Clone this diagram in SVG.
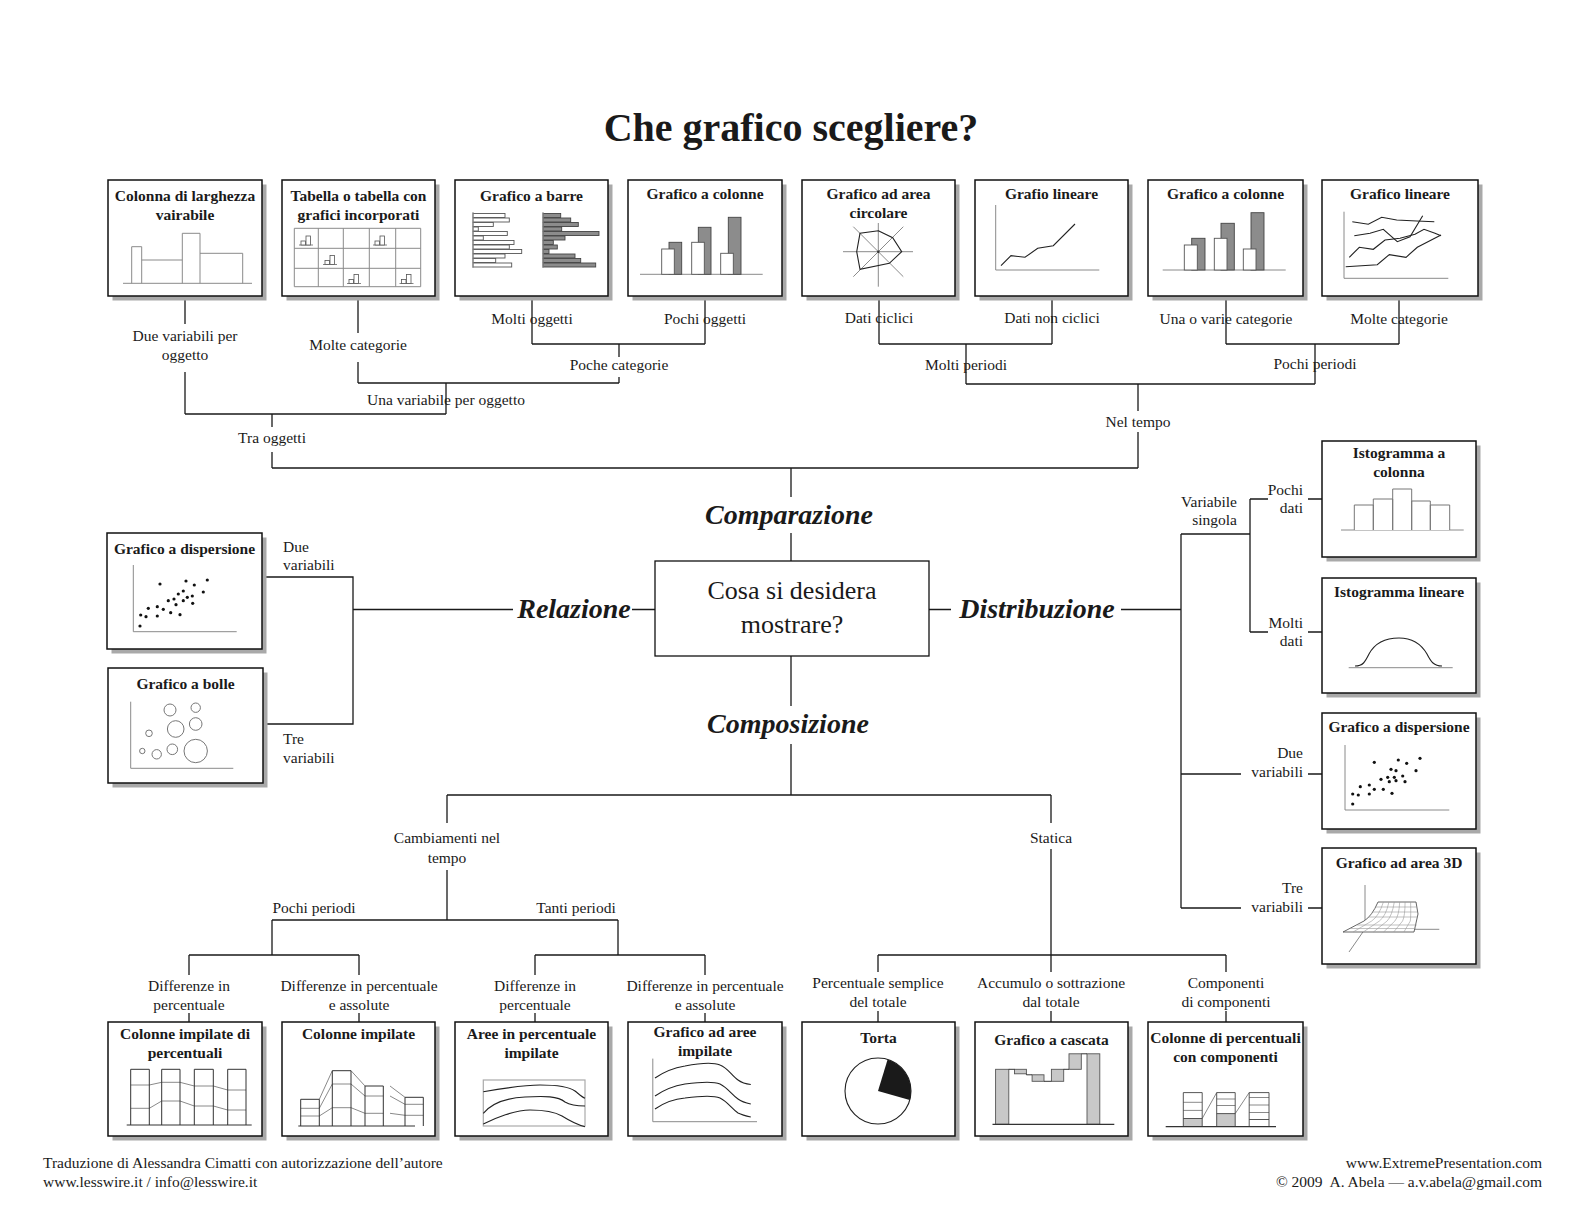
<svg xmlns="http://www.w3.org/2000/svg" width="1584" height="1224" viewBox="0 0 1584 1224">
<style>
text{font-family:"Liberation Serif","DejaVu Serif",serif;fill:#1a1a1a}
.title{font-size:40px;font-weight:bold;text-anchor:middle}
.lb{font-size:15.5px;text-anchor:middle}
.lbe{font-size:15.5px;text-anchor:end}
.lbs{font-size:15.5px;text-anchor:start}
.bt{font-size:15.5px;font-weight:bold;text-anchor:middle}
.key{font-size:28px;font-weight:bold;font-style:italic;text-anchor:middle}
.q{font-size:26px;text-anchor:middle}
.ft{font-size:15.5px}
.sh{fill:#a9a9a9}
.box{fill:#fff;stroke:#111;stroke-width:1.5}
.ln{fill:none;stroke:#1a1a1a;stroke-width:1.3}
.g{fill:none;stroke:#8a8a8a;stroke-width:1}
.d{fill:none;stroke:#222;stroke-width:1.1}
.wb{fill:#fff;stroke:#555;stroke-width:0.9}
.gb{fill:#8c8c8c;stroke:#444;stroke-width:0.9}
.lg{fill:#c8c8c8;stroke:#555;stroke-width:0.9}
.dot{fill:#111}
.bub{fill:#fff;stroke:#777;stroke-width:1}
</style>
<defs>
<g id="mini">
<path d="M0,0 H14" stroke="#777" stroke-width="0.9"/>
<rect x="2" y="-4" width="4.5" height="4" fill="#fff" stroke="#555" stroke-width="0.8"/>
<rect x="7" y="-9" width="4.5" height="9" fill="#fff" stroke="#555" stroke-width="0.8"/>
</g>
</defs>
<rect width="1584" height="1224" fill="#fff"/>
<text class="title" x="791" y="141">Che grafico scegliere?</text>

<g id="connectors">
<path class="ln" d="M185,296 V324 M185,372 V414 M358,296 V333 M358,362 V383 M532,296 V344 M705,296 V344 M532,344 H705 M619,344 V357 M619,377 V383 M358,383 H619 M446,383 V414 M185,414 H446 M272,414 V427 M272,452 V468 M272,468 H1138"/>
<path class="ln" d="M879,296 V344 M1052,296 V344 M879,344 H1052 M966,344 V384 M1226,296 V344 M1399,296 V344 M1226,344 H1399 M1315,344 V384 M966,384 H1315 M1138,384 V411 M1138,432 V468"/>
<path class="ln" d="M791,468 V497 M791,533 V561"/>
<path class="ln" d="M262,577 H353 V724 H263 M353,609.5 H513 M632,609.5 H655"/>
<path class="ln" d="M929,609.5 H951 M1121,609.5 H1181 M1181,534 V908 M1181,534 H1250 M1250,499 V632 M1250,499 H1268 M1308,499 H1322 M1250,632 H1268 M1308,632 H1322 M1181,774 H1241 M1308,774 H1322 M1181,908 H1241 M1308,908 H1322"/>
<path class="ln" d="M791,656 V706 M791,744 V795 M447,795 H1051 M447,795 V823 M447,870 V920 M272,920 H618 M272,920 V955 M618,920 V955 M189,955 H359 M535,955 H705 M189,955 V975 M359,955 V975 M535,955 V975 M705,955 V975 M189,1013 V1022 M359,1013 V1022 M535,1013 V1022 M705,1013 V1022"/>
<path class="ln" d="M1051,795 V823 M1051,849 V972 M878,955 H1226 M878,955 V972 M1226,955 V972 M878,1011 V1022 M1051,1011 V1022 M1226,1011 V1022"/>
</g>

<g id="labels">
<text class="lb" x="185" y="341">Due variabili per</text>
<text class="lb" x="185" y="360">oggetto</text>
<text class="lb" x="358" y="350">Molte categorie</text>
<text class="lb" x="532" y="324">Molti oggetti</text>
<text class="lb" x="705" y="324">Pochi oggetti</text>
<text class="lb" x="619" y="370">Poche categorie</text>
<text class="lb" x="446" y="405">Una variabile per oggetto</text>
<text class="lb" x="272" y="443">Tra oggetti</text>
<text class="lb" x="879" y="323">Dati ciclici</text>
<text class="lb" x="1052" y="323">Dati non ciclici</text>
<text class="lb" x="966" y="370">Molti periodi</text>
<text class="lb" x="1226" y="324">Una o varie categorie</text>
<text class="lb" x="1399" y="324">Molte categorie</text>
<text class="lb" x="1315" y="369">Pochi periodi</text>
<text class="lb" x="1138" y="427">Nel tempo</text>
<text class="key" x="789" y="524">Comparazione</text>
<text class="key" x="574" y="618">Relazione</text>
<text class="key" x="1037" y="618">Distribuzione</text>
<text class="key" x="788" y="733">Composizione</text>
<text class="lbs" x="283" y="552">Due</text>
<text class="lbs" x="283" y="570">variabili</text>
<text class="lbs" x="283" y="744">Tre</text>
<text class="lbs" x="283" y="763">variabili</text>
<text class="lbe" x="1237" y="507">Variabile</text>
<text class="lbe" x="1237" y="525">singola</text>
<text class="lbe" x="1303" y="495">Pochi</text>
<text class="lbe" x="1303" y="513">dati</text>
<text class="lbe" x="1303" y="628">Molti</text>
<text class="lbe" x="1303" y="646">dati</text>
<text class="lbe" x="1303" y="758">Due</text>
<text class="lbe" x="1303" y="777">variabili</text>
<text class="lbe" x="1303" y="893">Tre</text>
<text class="lbe" x="1303" y="912">variabili</text>
<text class="lb" x="447" y="843">Cambiamenti nel</text>
<text class="lb" x="447" y="863">tempo</text>
<text class="lb" x="1051" y="843">Statica</text>
<text class="lb" x="314" y="913">Pochi periodi</text>
<text class="lb" x="576" y="913">Tanti periodi</text>
<text class="lb" x="189" y="991">Differenze in</text>
<text class="lb" x="189" y="1010">percentuale</text>
<text class="lb" x="359" y="991">Differenze in percentuale</text>
<text class="lb" x="359" y="1010">e assolute</text>
<text class="lb" x="535" y="991">Differenze in</text>
<text class="lb" x="535" y="1010">percentuale</text>
<text class="lb" x="705" y="991">Differenze in percentuale</text>
<text class="lb" x="705" y="1010">e assolute</text>
<text class="lb" x="878" y="988">Percentuale semplice</text>
<text class="lb" x="878" y="1007">del totale</text>
<text class="lb" x="1051" y="988">Accumulo o sottrazione</text>
<text class="lb" x="1051" y="1007">dal totale</text>
<text class="lb" x="1226" y="988">Componenti</text>
<text class="lb" x="1226" y="1007">di componenti</text>
</g>

<g id="n-center">
<rect x="655" y="561" width="274" height="95" fill="#fff" stroke="#111" stroke-width="1.3"/>
<text class="q" x="792" y="599">Cosa si desidera</text>
<text class="q" x="792" y="633">mostrare?</text>
</g>

<g id="n-colonna-larghezza">
<rect class="sh" x="112.5" y="184.5" width="154" height="116"/>
<rect class="box" x="108" y="180" width="154" height="116"/>
<text class="bt" x="185" y="201">Colonna di larghezza</text>
<text class="bt" x="185" y="220">vairabile</text>
<path class="g" d="M123,283.3 H252 M131.7,283.3 V246.7 H141.7 V283.3 M141.7,260 H182.3 M182.3,283.3 V233.3 H200 V283.3 M200,253.3 H242.7 V283.3"/>
</g>

<g id="n-tabella">
<rect class="sh" x="286.5" y="184.5" width="153" height="116"/>
<rect class="box" x="282" y="180" width="153" height="116"/>
<text class="bt" x="358.5" y="201">Tabella o tabella con</text>
<text class="bt" x="358.5" y="220">grafici incorporati</text>
<path class="g" d="M294.3,228.3 H420.7 M294.3,248.3 H420.7 M294.3,268.3 H420.7 M294.3,286.7 H420.7 M294.3,228.3 V286.7 M318.3,228.3 V286.7 M343.3,228.3 V286.7 M369.3,228.3 V286.7 M395.7,228.3 V286.7 M420.7,228.3 V286.7"/>
<use href="#mini" x="299" y="245"/>
<use href="#mini" x="373" y="245"/>
<use href="#mini" x="323" y="264.5"/>
<use href="#mini" x="347" y="283.5"/>
<use href="#mini" x="399.5" y="283.5"/>
</g>

<g id="n-barre">
<rect class="sh" x="459.5" y="184.5" width="153" height="116"/>
<rect class="box" x="455" y="180" width="153" height="116"/>
<text class="bt" x="531.5" y="201">Grafico a barre</text>
<rect class="wb" x="473" y="213.5" width="32" height="4"/>
<rect class="wb" x="473" y="218" width="36.3" height="4"/>
<rect class="wb" x="473" y="222.5" width="20.3" height="4"/>
<rect class="wb" x="473" y="227" width="5.3" height="4"/>
<rect class="wb" x="473" y="231.5" width="34.3" height="4"/>
<rect class="wb" x="473" y="236" width="10.3" height="4"/>
<rect class="wb" x="473" y="240.5" width="41" height="4"/>
<rect class="wb" x="473" y="245" width="36.3" height="4"/>
<rect class="wb" x="473" y="249.5" width="48.7" height="4"/>
<rect class="wb" x="473" y="254" width="32" height="4"/>
<rect class="wb" x="473" y="258.5" width="22.7" height="4"/>
<rect class="wb" x="473" y="263" width="38.7" height="4"/>
<path class="g" d="M473,212 V268"/>
<rect class="gb" x="543" y="213.5" width="17.7" height="4"/>
<rect class="gb" x="543" y="218" width="27.7" height="4"/>
<rect class="gb" x="543" y="222.5" width="35.3" height="4"/>
<rect class="gb" x="543" y="227" width="18.7" height="4"/>
<rect class="gb" x="543" y="231.5" width="56" height="4"/>
<rect class="gb" x="543" y="236" width="22" height="4"/>
<rect class="gb" x="543" y="240.5" width="10.3" height="4"/>
<rect class="gb" x="543" y="245" width="14.3" height="4"/>
<rect class="gb" x="543" y="249.5" width="6" height="4"/>
<rect class="gb" x="543" y="254" width="32" height="4"/>
<rect class="gb" x="543" y="258.5" width="37.7" height="4"/>
<rect class="gb" x="543" y="263" width="52.7" height="4"/>
<path class="g" d="M543,212 V268"/>
</g>

<g id="n-colonne-1">
<rect class="sh" x="632.5" y="184.5" width="154" height="116"/>
<rect class="box" x="628" y="180" width="154" height="116"/>
<text class="bt" x="705" y="199">Grafico a colonne</text>
<path class="g" d="M640,274.3 H762.7"/>
<rect class="gb" x="669" y="242.3" width="12.7" height="32"/>
<rect class="wb" x="661.7" y="249" width="12.6" height="25.3"/>
<rect class="gb" x="698.3" y="227.3" width="12.7" height="47"/>
<rect class="wb" x="691.7" y="242.3" width="12.6" height="32"/>
<rect class="gb" x="728.3" y="217.3" width="12.7" height="57"/>
<rect class="wb" x="720.7" y="253.3" width="12.6" height="21"/>
</g>

<g id="n-area-circolare">
<rect class="sh" x="806.5" y="184.5" width="153" height="116"/>
<rect class="box" x="802" y="180" width="153" height="116"/>
<text class="bt" x="878.5" y="199">Grafico ad area</text>
<text class="bt" x="878.5" y="218">circolare</text>
<path class="g" d="M843,251.7 H913 M878.3,223 V286.7 M853.3,226.7 L903.3,276.7 M903.3,226.7 L853.3,276.7"/>
<path class="d" d="M878.3,230.7 L892.7,237.7 L901.7,251.7 L889.3,263.3 L860,269.3 L856.7,251.7 L860,233.3 Z"/>
<circle cx="878.3" cy="251.7" r="1.2" fill="#333"/>
</g>

<g id="n-grafio-lineare">
<rect class="sh" x="979.5" y="184.5" width="153" height="116"/>
<rect class="box" x="975" y="180" width="153" height="116"/>
<text class="bt" x="1051.5" y="199">Grafio lineare</text>
<path class="g" d="M995.7,205 V270 H1099.3"/>
<path class="d" d="M1001,265.7 L1011,255.7 L1025,257.3 L1037.7,248.3 L1053.3,245.7 L1075,224"/>
</g>

<g id="n-colonne-2">
<rect class="sh" x="1152.5" y="184.5" width="155" height="116"/>
<rect class="box" x="1148" y="180" width="155" height="116"/>
<text class="bt" x="1225.5" y="199">Grafico a colonne</text>
<path class="g" d="M1162.7,270 H1285.7"/>
<rect class="gb" x="1191.7" y="238.3" width="13.3" height="31.7"/>
<rect class="wb" x="1184.3" y="245" width="13" height="25"/>
<rect class="gb" x="1221" y="223.3" width="13.3" height="46.7"/>
<rect class="wb" x="1214.3" y="238.3" width="12.7" height="31.7"/>
<rect class="gb" x="1251" y="212.7" width="13" height="57.3"/>
<rect class="wb" x="1243.3" y="249" width="12.7" height="21"/>
</g>

<g id="n-grafico-lineare">
<rect class="sh" x="1326.5" y="184.5" width="156" height="116"/>
<rect class="box" x="1322" y="180" width="156" height="116"/>
<text class="bt" x="1400" y="199">Grafico lineare</text>
<path class="g" d="M1344,211.7 V278.3 H1448.3"/>
<path class="d" d="M1352.3,221.7 L1368.3,224.3 L1381.7,217.3 L1396.7,220 L1416.7,221 L1434.3,221.7"/>
<path class="d" d="M1354.3,235.7 L1370,233.3 L1383.3,229.3 L1397.3,241.7 L1410,236.7 L1422.7,215.7"/>
<path class="d" d="M1349.3,257.3 L1359.3,247.3 L1373.3,249.3 L1385,240 L1400,238.3 L1415,234.3 L1424,229.3 L1435,233.3 L1441,235.7"/>
<path class="d" d="M1345.7,266.7 L1377.3,264.7 L1389.3,254.7 L1406,257.3 L1417.3,247.3 L1441,235"/>
</g>

<g id="n-dispersione-1">
<rect class="sh" x="111.5" y="537.5" width="155" height="116"/>
<rect class="box" x="107" y="533" width="155" height="116"/>
<text class="bt" x="184.5" y="554">Grafico a dispersione</text>
<path class="g" d="M133.3,565 V631.7 H236.7"/>
<g class="dot">
<circle cx="160" cy="584" r="1.6"/><circle cx="186" cy="581" r="1.6"/><circle cx="194.3" cy="585" r="1.6"/><circle cx="207.3" cy="580" r="1.6"/><circle cx="203.3" cy="592" r="1.6"/><circle cx="178.3" cy="594" r="1.6"/><circle cx="183.3" cy="591" r="1.6"/><circle cx="174" cy="599" r="1.6"/><circle cx="168.3" cy="600.7" r="1.6"/><circle cx="187.3" cy="597.3" r="1.6"/><circle cx="192.3" cy="596" r="1.6"/><circle cx="183.3" cy="600.7" r="1.6"/><circle cx="192.7" cy="603.3" r="1.6"/><circle cx="176" cy="604.7" r="1.6"/><circle cx="163.3" cy="609.3" r="1.6"/><circle cx="157.3" cy="606.7" r="1.6"/><circle cx="148.3" cy="608.3" r="1.6"/><circle cx="140.7" cy="615" r="1.6"/><circle cx="146" cy="616.7" r="1.6"/><circle cx="157.3" cy="616" r="1.6"/><circle cx="170.7" cy="612.7" r="1.6"/><circle cx="180" cy="614.7" r="1.6"/><circle cx="140" cy="626" r="1.6"/>
</g>
</g>

<g id="n-bolle">
<rect class="sh" x="112.5" y="672.5" width="155" height="115"/>
<rect class="box" x="108" y="668" width="155" height="115"/>
<text class="bt" x="185.5" y="688.5">Grafico a bolle</text>
<path class="g" d="M130.7,701.7 V768.3 H233.3"/>
<circle class="bub" cx="170" cy="710" r="6"/>
<circle class="bub" cx="195.7" cy="707.7" r="4.7"/>
<circle class="bub" cx="175.7" cy="729" r="8.3"/>
<circle class="bub" cx="195.7" cy="724" r="6.3"/>
<circle class="bub" cx="149" cy="733.3" r="3.3"/>
<circle class="bub" cx="142.3" cy="751" r="2.7"/>
<circle class="bub" cx="156.7" cy="754.3" r="4.7"/>
<circle class="bub" cx="172.3" cy="749.3" r="5.3"/>
<circle class="bub" cx="195.7" cy="751" r="11.7"/>
</g>

<g id="n-istogramma-colonna">
<rect class="sh" x="1326.5" y="445.5" width="154" height="116"/>
<rect class="box" x="1322" y="441" width="154" height="116"/>
<text class="bt" x="1399" y="458">Istogramma a</text>
<text class="bt" x="1399" y="477">colonna</text>
<path class="g" d="M1341,530 H1463.7"/>
<path fill="#fff" stroke="#777" stroke-width="1" d="M1354.3,530 V505 H1373.3 V530 M1373.3,530 V499 H1392.7 V530 M1392.7,530 V489 H1411.7 V530 M1411.7,530 V501 H1430.3 V530 M1430.3,530 V505 H1449.7 V530"/>
</g>

<g id="n-istogramma-lineare">
<rect class="sh" x="1326.5" y="582.5" width="154" height="115"/>
<rect class="box" x="1322" y="578" width="154" height="115"/>
<text class="bt" x="1399" y="596.5">Istogramma lineare</text>
<path class="g" d="M1348.7,667.7 H1452.7"/>
<path class="d" d="M1355,666 C1363,666 1365,662 1369,654 C1376,641 1388,638 1399,638 C1410,638 1420,642 1427,654 C1431,662 1434,666 1442,666"/>
</g>

<g id="n-dispersione-2">
<rect class="sh" x="1326.5" y="717.5" width="154" height="116"/>
<rect class="box" x="1322" y="713" width="154" height="116"/>
<text class="bt" x="1399" y="731.5">Grafico a dispersione</text>
<path class="g" d="M1345,745 V810 H1449.3"/>
<g class="dot">
<circle cx="1374.3" cy="762.3" r="1.6"/><circle cx="1398.3" cy="760" r="1.6"/><circle cx="1406.7" cy="763.3" r="1.6"/><circle cx="1420" cy="758.3" r="1.6"/><circle cx="1416" cy="770.7" r="1.6"/><circle cx="1391" cy="769.3" r="1.6"/><circle cx="1396" cy="770.7" r="1.6"/><circle cx="1387.7" cy="777.3" r="1.6"/><circle cx="1381" cy="779.3" r="1.6"/><circle cx="1394.3" cy="777.3" r="1.6"/><circle cx="1402.7" cy="776" r="1.6"/><circle cx="1396" cy="780.7" r="1.6"/><circle cx="1405" cy="781.7" r="1.6"/><circle cx="1389.3" cy="781.7" r="1.6"/><circle cx="1374.3" cy="789.3" r="1.6"/><circle cx="1369.3" cy="785" r="1.6"/><circle cx="1360.3" cy="786.7" r="1.6"/><circle cx="1352.7" cy="794" r="1.6"/><circle cx="1358.3" cy="795" r="1.6"/><circle cx="1369.3" cy="794" r="1.6"/><circle cx="1383.3" cy="789.3" r="1.6"/><circle cx="1392" cy="793.3" r="1.6"/><circle cx="1352.7" cy="804" r="1.6"/>
</g>
</g>

<g id="n-area-3d">
<rect class="sh" x="1326.5" y="852.5" width="154" height="116"/>
<rect class="box" x="1322" y="848" width="154" height="116"/>
<text class="bt" x="1399" y="868">Grafico ad area 3D</text>
<path class="g" d="M1365,885 V929 L1349,952 M1361,929.3 H1439.3"/>
<path fill="#fff" stroke="#555" stroke-width="0.9" d="M1343,932 L1364,921 Q1372,916 1378,902 L1416,902 L1418,914 L1414,932 Z"/>
<path fill="none" stroke="#999" stroke-width="0.6" d="M1383.4,902 Q1379,916 1371.7,921 L1353.1,932 M1388.9,902 Q1386,916 1379.4,921 L1363.3,932 M1394.3,902 Q1392,916 1387.1,921 L1373.4,932 M1399.7,902 Q1399,916 1394.9,921 L1383.6,932 M1405.1,902 Q1405,916 1402.6,921 L1393.7,932 M1410.6,902 Q1411,916 1410.3,921 L1403.9,932 M1376,907 H1416.7 M1373,912 H1417.3 M1369,917 H1417.6 M1357,925 H1416.8 M1350,928.5 H1415.5"/>
</g>

<g id="n-colonne-impilate-perc">
<rect class="sh" x="112.5" y="1026.5" width="154" height="114"/>
<rect class="box" x="108" y="1022" width="154" height="114"/>
<text class="bt" x="185" y="1039">Colonne impilate di</text>
<text class="bt" x="185" y="1058">percentuali</text>
<path class="g" d="M130.7,1085 H149.3 L161.7,1082.3 H180 L194.3,1086 H213.3 L227.7,1090 H246 M130.7,1108.3 H149.3 L161.7,1101 H180 L194.3,1106 H213.3 L227.7,1110 H246"/>
<path fill="none" stroke="#333" stroke-width="1" d="M130.7,1125 V1069.3 H149.3 V1125 M161.7,1125 V1069.3 H180 V1125 M194.3,1125 V1069.3 H213.3 V1125 M227.7,1125 V1069.3 H246 V1125"/>
<path fill="none" stroke="#333" stroke-width="1.2" d="M126.7,1125 H251.7"/>
</g>

<g id="n-colonne-impilate">
<rect class="sh" x="286.5" y="1026.5" width="153" height="114"/>
<rect class="box" x="282" y="1022" width="153" height="114"/>
<text class="bt" x="358.5" y="1039">Colonne impilate</text>
<path class="g" d="M300.7,1108.3 H319.3 M300.7,1116 H319.3 M332.3,1084 H351 M332.3,1107.7 H351 M365,1096 H383.3 M365,1113.3 H383.3 M405,1104.3 H423.3 M405,1115.3 H423.3 M319.3,1099.3 L332.3,1070.7 M319.3,1108.3 L332.3,1084 M319.3,1116 L332.3,1107.7 M351,1070.7 L365,1086 M351,1084 L365,1096 M351,1107.7 L365,1113.3 M390,1086 L405,1097.3 M390,1096 L405,1104.3 M390,1113.3 L405,1115.3"/>
<path fill="none" stroke="#333" stroke-width="1" d="M300.7,1126 V1099.3 H319.3 V1126 M332.3,1126 V1070.7 H351 V1126 M365,1126 V1086 H383.3 V1126 M405,1126 V1097.3 H423.3 V1126"/>
<path fill="none" stroke="#333" stroke-width="1.2" d="M298.3,1126 H415"/>
</g>

<g id="n-aree-percentuale">
<rect class="sh" x="459.5" y="1026.5" width="153" height="114"/>
<rect class="box" x="455" y="1022" width="153" height="114"/>
<text class="bt" x="531.5" y="1039">Aree in percentuale</text>
<text class="bt" x="531.5" y="1058">impilate</text>
<rect x="483.3" y="1080" width="101.7" height="46" fill="none" stroke="#aaa" stroke-width="1.2"/>
<path class="d" d="M483.3,1091.7 C505,1088 525,1085 540,1085 C555,1085 568,1086 575,1091 C580,1095 582,1097 585,1098.3"/>
<path class="d" d="M483.3,1113.3 C492,1103 505,1098 525,1097 C545,1096 558,1096 565,1102 C570,1105 578,1106 585,1106"/>
<path class="d" d="M483.3,1124 C495,1118 515,1110 530,1110 C545,1110 555,1112 562,1116 C570,1121 578,1125 585,1126.7"/>
</g>

<g id="n-aree-impilate">
<rect class="sh" x="632.5" y="1026.5" width="154" height="114"/>
<rect class="box" x="628" y="1022" width="154" height="114"/>
<text class="bt" x="705" y="1037">Grafico ad aree</text>
<text class="bt" x="705" y="1056">impilate</text>
<path class="g" d="M652.8,1058.6 V1121.7 H757"/>
<path class="d" d="M655,1078 C665,1071 673,1068 685,1066 C700,1063 713,1062 720,1065 C728,1068 732,1076 738,1080 C742,1083 746,1084 750.8,1084.5"/>
<path class="d" d="M655,1096 C665,1089 673,1086 685,1084 C700,1082 713,1081 720,1084 C728,1088 732,1095 738,1099 C742,1102 746,1103 750.8,1104"/>
<path class="d" d="M655,1109 C665,1102 673,1099 685,1098 C700,1096 713,1095 720,1098 C728,1102 732,1109 738,1113 C742,1115 746,1116 750.8,1117"/>
</g>

<g id="n-torta">
<rect class="sh" x="806.5" y="1026.5" width="153" height="114"/>
<rect class="box" x="802" y="1022" width="153" height="114"/>
<text class="bt" x="878.5" y="1043">Torta</text>
<circle cx="878" cy="1091" r="33" fill="#fff" stroke="#222" stroke-width="1.1"/>
<path fill="#1a1a1a" d="M878,1091 L887.6,1059.4 A33,33 0 0,1 909.7,1100.1 Z"/>
</g>

<g id="n-cascata">
<rect class="sh" x="979.5" y="1026.5" width="153" height="114"/>
<rect class="box" x="975" y="1022" width="153" height="114"/>
<text class="bt" x="1051.5" y="1045">Grafico a cascata</text>
<rect class="lg" x="995.6" y="1069.3" width="13.2" height="55"/>
<rect class="lg" x="1014.5" y="1069.3" width="11.9" height="4.5"/>
<rect class="lg" x="1032.1" y="1074.8" width="11.9" height="6.5"/>
<rect class="lg" x="1051.4" y="1069.3" width="12.3" height="12"/>
<rect class="lg" x="1069" y="1053.8" width="12.3" height="15.5"/>
<rect class="lg" x="1087" y="1053.8" width="12.8" height="70.5"/>
<path fill="none" stroke="#333" stroke-width="1" d="M1008.8,1069.3 H1014.5 M1026.4,1073.8 V1074.8 H1032.1 M1044,1081.3 H1051.4 M1063.7,1069.3 H1069 M1081.3,1053.8 H1087"/>
<path fill="none" stroke="#333" stroke-width="1.2" d="M992.5,1124.3 H1114.3"/>
</g>

<g id="n-colonne-componenti">
<rect class="sh" x="1152.5" y="1026.5" width="155" height="114"/>
<rect class="box" x="1148" y="1022" width="155" height="114"/>
<text class="bt" x="1225.5" y="1043">Colonne di percentuali</text>
<text class="bt" x="1225.5" y="1062">con componenti</text>
<rect x="1183.3" y="1118.5" width="18.9" height="8.1" fill="#c8c8c8"/>
<rect x="1216.7" y="1113.6" width="18.5" height="13" fill="#c8c8c8"/>
<path class="g" d="M1183.3,1102.3 H1202.2 M1183.3,1110.4 H1202.2 M1216.7,1099 H1235.2 M1216.7,1105.5 H1235.2 M1249.2,1097.5 H1269 M1249.2,1105 H1269 M1249.2,1112.5 H1269 M1202.2,1118.5 L1216.7,1092.6 M1235.2,1113.6 L1249.2,1092.6"/>
<path fill="none" stroke="#444" stroke-width="0.9" d="M1183.3,1126.6 V1092.6 H1202.2 V1126.6 M1183.3,1118.5 H1202.2 M1216.7,1126.6 V1092.6 H1235.2 V1126.6 M1216.7,1113.6 H1235.2 M1249.2,1126.6 V1092.6 H1269 V1126.6 M1249.2,1119.5 H1269"/>
<path fill="none" stroke="#333" stroke-width="1.2" d="M1165.7,1126.6 H1276"/>
</g>

<g id="footer">
<text class="ft" x="43" y="1168">Traduzione di Alessandra Cimatti con autorizzazione dell’autore</text>
<text class="ft" x="43" y="1187">www.lesswire.it / info@lesswire.it</text>
<text class="ft" x="1542" y="1168" text-anchor="end">www.ExtremePresentation.com</text>
<text class="ft" x="1542" y="1187" text-anchor="end">© 2009&#160; A. Abela — a.v.abela@gmail.com</text>
</g>
</svg>
